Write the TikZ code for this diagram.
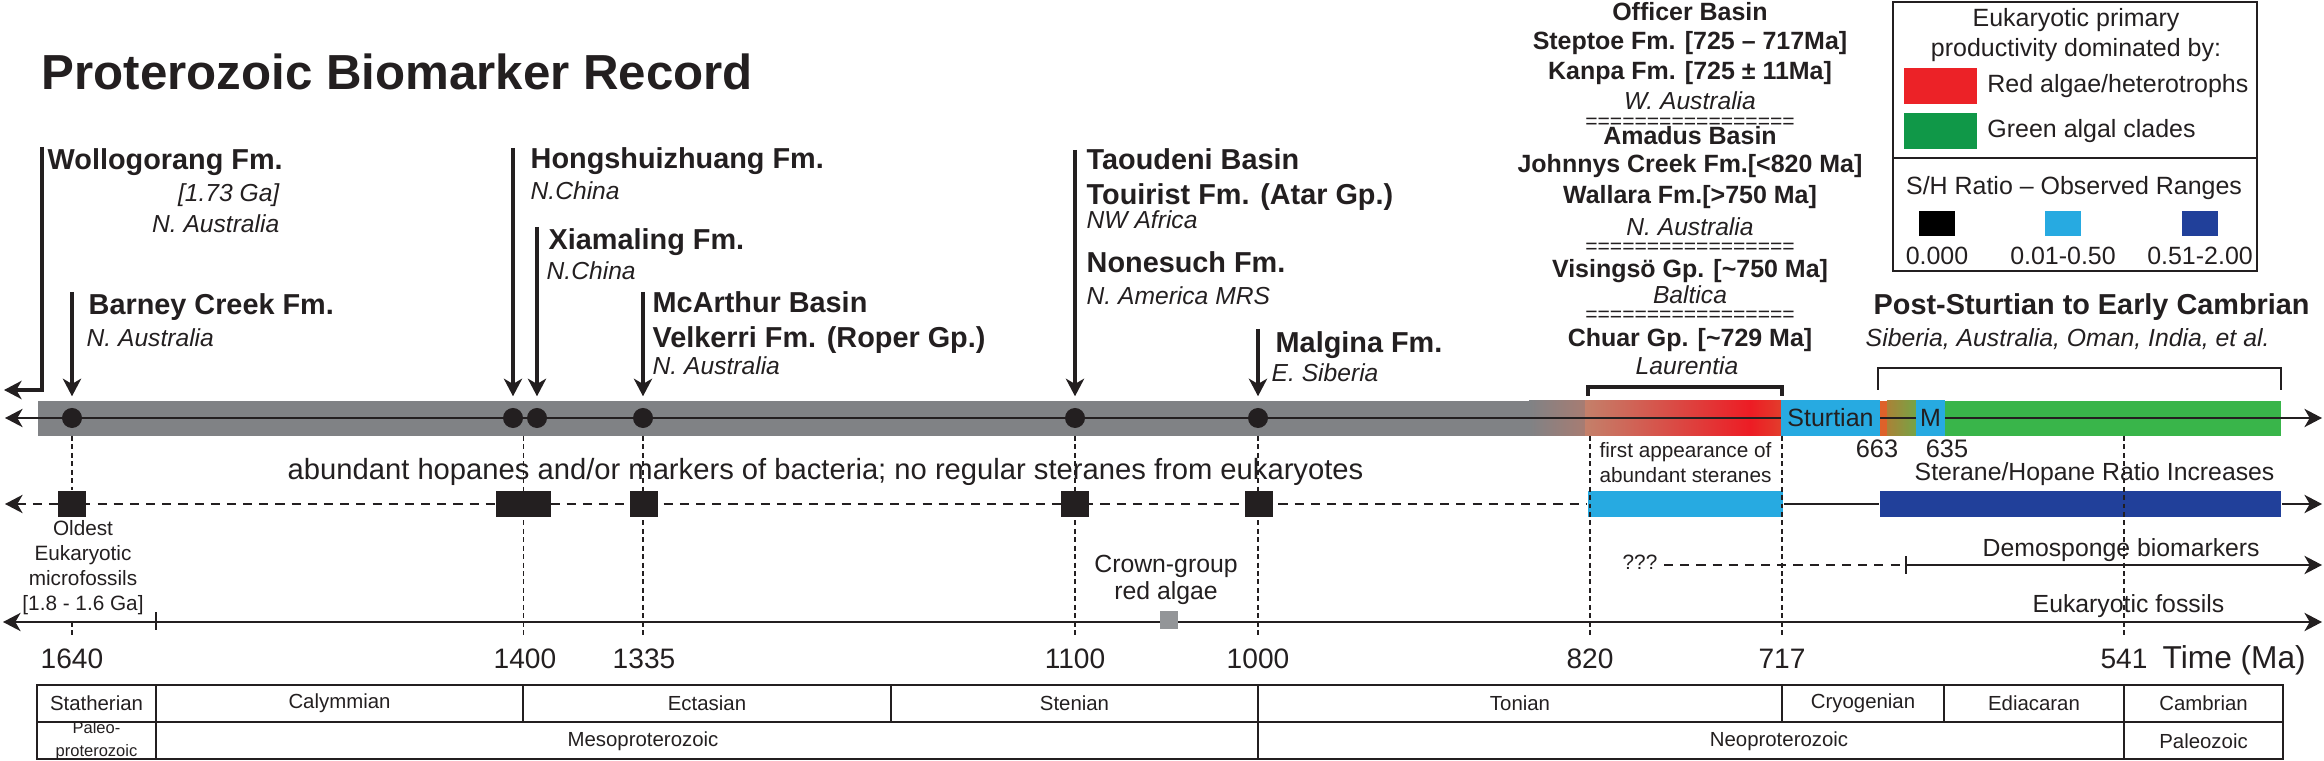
\documentclass[tikz,border=0pt]{standalone}
\usepackage{fontspec}
\setmainfont{Liberation Sans}
\usepackage{tikz}
\usetikzlibrary{positioning,arrows.meta}

\definecolor{ink}{RGB}{35,31,32}
\definecolor{barGray}{RGB}{128,130,133}
\definecolor{algRed}{RGB}{237,28,36}
\definecolor{fadeA}{RGB}{168,124,114}
\definecolor{fadeB}{RGB}{196,128,106}
\definecolor{fadeC}{RGB}{226,62,44}
\definecolor{shLight}{RGB}{39,170,225}
\definecolor{shDark}{RGB}{33,64,154}
\definecolor{grnBar}{RGB}{57,181,74}
\definecolor{grnLeg}{RGB}{16,152,72}
\definecolor{redLeg}{RGB}{236,34,39}
\definecolor{cryOrange}{RGB}{222,98,42}
\definecolor{oliveA}{RGB}{170,130,55}
\definecolor{oliveB}{RGB}{115,165,70}
\definecolor{algGray}{RGB}{147,149,152}

\tikzset{
  fm/.style={font=\bfseries\fontsize{8.2}{9}\selectfont, anchor=base west, inner sep=0pt},
  loc/.style={font=\itshape\fontsize{7}{8}\selectfont, anchor=base west, inner sep=0pt},
  rc/.style={font=\bfseries\fontsize{7.1}{8}\selectfont, anchor=base, inner sep=0pt},
  rcloc/.style={font=\itshape\fontsize{7}{8}\selectfont, anchor=base, inner sep=0pt},
  eqline/.style={font=\fontsize{6}{7}\selectfont, inner sep=0pt},
  txt/.style={font=\fontsize{7.05}{8}\selectfont, anchor=base west, inner sep=0pt},
  small/.style={font=\fontsize{5.9}{7}\selectfont, anchor=base, inner sep=0pt},
  num/.style={font=\fontsize{7.2}{8}\selectfont, anchor=base, inner sep=0pt},
  tick/.style={font=\fontsize{8}{9}\selectfont, anchor=base, inner sep=0pt},
  tab/.style={font=\fontsize{5.8}{7}\selectfont, inner sep=0pt},
  leg/.style={font=\fontsize{7.1}{8}\selectfont, inner sep=0pt},
  cell/.style={line width=0.5pt},
  dot/.style={circle, fill=ink, inner sep=0pt, minimum size=0.2cm},
  sq/.style={fill=ink, inner sep=0pt, minimum height=0.26cm},
  glac/.style={fill=shLight, inner sep=0pt, minimum height=0.35cm, font=\fontsize{7.1}{8}\selectfont},
  marker/.style={->, line width=1pt, shorten >=0.11cm},
  drop/.style={line width=0.4pt, dash pattern=on 1.4pt off 1pt},
  row/.style={line width=0.6pt},
  rowdash/.style={line width=0.6pt, dash pattern=on 2.6pt off 2pt}
}

\begin{document}
\begin{tikzpicture}[x=0.01cm, y=-0.01cm, color=ink, >={Stealth[length=5pt,width=5.2pt,inset=1.5pt]}]
\useasboundingbox (0,0) rectangle (2324,761);
\node[font=\bfseries\fontsize{14}{16}\selectfont, anchor=base west, inner sep=0pt] (title) at (41,90) {Proterozoic Biomarker Record};

% main time bar
\fill[barGray] (38,401) rectangle (1530,436);
\shade[left color=barGray, right color=fadeA] (1529,401) rectangle (1586,436);
\shade[left color=fadeB, right color=algRed] (1585,401) rectangle (1751,436);
\shade[left color=algRed, right color=fadeC] (1750,401) rectangle (1782,436);
\fill[cryOrange] (1879,401) rectangle (1888,436);
\shade[left color=oliveA, right color=oliveB] (1887,401) rectangle (1917,436);
\fill[grnBar] (1945,401) rectangle (2281,436);
\coordinate (ax0) at (5,418);
\coordinate (ax1) at (2322,418);
\coordinate (barBot) at (0,436);
\draw[<->, row] (ax0) -- (ax1);
\node[glac, minimum width=0.98cm] (sturt) at (1830.5,418) {Sturtian};
\node[glac, minimum width=0.29cm] (mari) at (1930.5,418) {M};
\node[num] (n663) at (1877,458) {663};
\node[num] (n635) at (1947,458) {635};

\foreach \n/\X in {1640/72, 1400/513, xia/537, 1335/643, 1100/1075, 1000/1258}
    \node[dot] (d\n) at (\X,418) {};

% formations
\node[fm] (wol) at (47,170) {Wollogorang Fm.};
\node[loc, anchor=base east] (wolA) at (280,202) {[1.73 Ga]};
\node[loc, anchor=base east] (wolB) at (280,233) {N. Australia};
\coordinate (aWol) at (42,147);
\coordinate (wolEnd) at (4,390);
\draw[->, line width=1pt] (aWol) |- (wolEnd);

\node[fm] (bar) at (88,315) {Barney Creek Fm.};
\node[loc] (barA) at (86,347) {N. Australia};
\coordinate (aBar) at (72,292);
\draw[marker] (aBar) -- (d1640);

\node[fm] (hon) at (530,169) {Hongshuizhuang Fm.};
\node[loc] (honA) at (530,200) {N.China};
\coordinate (aHon) at (513,148);
\draw[marker] (aHon) -- (d1400);

\node[fm] (xia) at (548,250) {Xiamaling Fm.};
\node[loc] (xiaA) at (546,280) {N.China};
\coordinate (aXia) at (537,227);
\draw[marker] (aXia) -- (dxia);

\node[fm] (mca) at (652,313) {McArthur Basin};
\node[fm] (vel) at (652,348) {Velkerri Fm. (Roper Gp.)};
\node[loc] (velA) at (652,375) {N. Australia};
\coordinate (aMca) at (643,292);
\draw[marker] (aMca) -- (d1335);

\node[fm] (tao) at (1086,170) {Taoudeni Basin};
\node[fm] (tou) at (1086,205) {Touirist Fm. (Atar Gp.)};
\node[loc] (touA) at (1086,229) {NW Africa};
\node[fm] (non) at (1086,273) {Nonesuch Fm.};
\node[loc] (nonA) at (1086,305) {N. America MRS};
\coordinate (aTao) at (1075,150);
\draw[marker] (aTao) -- (d1100);

\node[fm] (mal) at (1275,353) {Malgina Fm.};
\node[loc] (malA) at (1271,382) {E. Siberia};
\coordinate (aMal) at (1258,329);
\draw[marker] (aMal) -- (d1000);

% right column
\node[rc] (ob1) at (1690,21) {Officer Basin};
\node[rc] (ob2) at (1690,50) {Steptoe Fm. [725 – 717Ma]};
\node[rc] (ob3) at (1690,80) {Kanpa Fm. [725 ± 11Ma]};
\node[rcloc] (ob4) at (1690,110) {W. Australia};
\node[eqline] (eq1) at (1690,123) {=================};
\node[rc] (am1) at (1690,145) {Amadus Basin};
\node[rc] (am2) at (1690,173) {Johnnys Creek Fm.[<820 Ma]};
\node[rc] (am3) at (1690,204) {Wallara Fm.[>750 Ma]};
\node[rcloc] (am4) at (1690,236) {N. Australia};
\node[eqline] (eq2) at (1690,248) {=================};
\node[rc] (vi1) at (1690,278) {Visingsö Gp. [\textasciitilde750 Ma]};
\node[rcloc] (vi2) at (1690,304) {Baltica};
\node[eqline] (eq3) at (1690,316) {=================};
\node[rc] (ch1) at (1690,347) {Chuar Gp. [\textasciitilde729 Ma]};
\node[rcloc] (ch2) at (1687,375) {Laurentia};
\coordinate (lauL) at (1588,396);
\coordinate (lauR) at (1782,396);
\draw[line width=1pt] (lauL) -- ++(0,-9) -| (lauR);

\node[fm] (post) at (1873,315) {Post-Sturtian to Early Cambrian};
\node[loc, font=\itshape\fontsize{7.05}{8}\selectfont] (postA) at (1865,347) {Siberia, Australia, Oman, India, et al.};
\coordinate (psL) at (1878,390);
\coordinate (psR) at (2281,390);
\draw[row] (psL) -- ++(0,-22) -| (psR);

% legend
\draw[line width=0.7pt] (1893,2) rectangle (2257,271);
\draw[line width=0.7pt] (1893,158) -- (2257,158);
\node[leg, anchor=base] (lg1) at (2076,27) {Eukaryotic primary};
\node[leg, anchor=base] (lg2) at (2076,57) {productivity dominated by:};
\node[fill=redLeg, inner sep=0pt, minimum width=0.73cm, minimum height=0.36cm] (lgRed) at (1940.5,86) {};
\node[leg, right=0.09cm of lgRed] (lgRedT) {Red algae/heterotrophs};
\node[fill=grnLeg, inner sep=0pt, minimum width=0.73cm, minimum height=0.36cm] (lgGrn) at (1940.5,131) {};
\node[leg, right=0.09cm of lgGrn] (lgGrnT) {Green algal clades};
\node[leg, anchor=base] (lg3) at (2074,195) {S/H Ratio – Observed Ranges};
\foreach \c/\X/\t [count=\i] in {black/1937/0.000, shLight/2063/0.01-0.50, shDark/2200/0.51-2.00}{
    \node[fill=\c, inner sep=0pt, minimum width=0.36cm, minimum height=0.25cm] (key\i) at (\X,223.5) {};
    \node[leg, below=0.1cm of key\i] (keyT\i) {\t};
}

% hopane row
\node[txt, font=\fontsize{8.3}{9}\selectfont] (hop) at (287,480) {abundant hopanes and/or markers of bacteria; no regular steranes from eukaryotes};
\coordinate (hp0) at (5,504);
\coordinate (hp1) at (2322,504);
\node[fill=shLight, inner sep=0pt, minimum width=1.95cm, minimum height=0.26cm] (stLow) at (1685.5,504) {};
\node[fill=shDark, inner sep=0pt, minimum width=4.01cm, minimum height=0.26cm] (stHigh) at (2080.5,504) {};
\draw[<-, rowdash] (hp0) -- (stLow.west);
\draw[row] (stLow.east) -- (stHigh.west);
\draw[->, row] (stHigh.east) -- (hp1);
\foreach \n/\X/\w in {1640/72/0.28, 1400/523.5/0.55, 1335/644/0.28, 1100/1075/0.28, 1000/1259/0.28}
    \node[sq, minimum width=\w cm] (s\n) at (\X,504) {};
\node[small] (fa1) at (1685.5,458) {first appearance of};
\node[small] (fa2) at (1685.5,482) {abundant steranes};
\node[txt] (shr) at (1914,481) {Sterane/Hopane Ratio Increases};
\foreach \t [count=\i from 0] in {Oldest, Eukaryotic, microfossils, {[1.8 - 1.6 Ga]}}
    \node[small] (old\i) at (83,535+25.3*\i) {\t};

% sponge and fossil rows
\node[small] (qqq) at (1640,569) {???};
\coordinate (dmTick) at (1906,565);
\coordinate (dm1) at (2322,565);
\draw[rowdash] (qqq.east |- dmTick) ++(6,0) -- (dmTick);
\draw[->, row] (dmTick) -- (dm1);
\draw[row] (dmTick) ++(0,-9) -- ++(0,18);
\node[txt] (demo) at (1982,557) {Demosponge biomarkers};

\coordinate (ef0) at (3,622);
\coordinate (ef1) at (2322,622);
\coordinate (efTick) at (156,622);
\draw[<->, row] (ef0) -- (ef1);
\draw[row] (efTick) ++(0,-10) -- ++(0,18);
\node[txt] (euk) at (2032,612) {Eukaryotic fossils};
\node[fill=algGray, inner sep=0pt, minimum width=0.18cm, minimum height=0.17cm] (redAlg) at (1169,620) {};
\node[txt, anchor=base] (cg1) at (1166,572) {Crown-group};
\node[txt, anchor=base] (cg2) at (1166,600) {red algae};

% time scale
\foreach \v/\X in {1640/72, 1400/525, 1335/644, 1100/1075, 1000/1258, 820/1590, 717/1782, 541/2124}
    \node[tick] (t\v) at (\X,668) {\v};
\node[tick, anchor=base west, font=\fontsize{9}{10}\selectfont] (tma) at (2162,668) {Time (Ma)};

\draw[drop] (d1640 |- barBot) -- (s1640.north);
\draw[drop] (d1640 |- ef0) -- ([yshift=3pt]t1640.north);
\draw[drop] (s1400 |- barBot) -- ([yshift=3pt]s1400 |- t1400.north);
\foreach \n in {1335, 1100, 1000}
    \draw[drop] (d\n |- barBot) -- ([yshift=3pt]d\n |- t\n.north);
\foreach \n in {820, 717, 541}
    \draw[drop] (t\n |- barBot) -- ([yshift=3pt]t\n.north);

% periods table
\foreach \a/\b/\p in {37/156/Statherian, 156/523/Calymmian, 523/891/Ectasian, 891/1258/Stenian, 1258/1782/Tonian, 1782/1944/Cryogenian, 1944/2124/Ediacaran, 2124/2283/Cambrian}{
    \draw[cell] (\a,685) rectangle (\b,722);
    \node[tab] (p\p) at ({(\a+\b)/2},703.5) {\p};
}
\foreach \a/\b in {37/156, 156/1258, 1258/2124, 2124/2283}
    \draw[cell] (\a,722) rectangle (\b,759);
\node[tab, font=\fontsize{4.7}{6.5}\selectfont, align=center] (ePal) at (96.5,741) {Paleo-\\proterozoic};
\node[tab] (eMes) at (643,741) {Mesoproterozoic};
\node[tab] (eNeo) at (1779,741) {Neoproterozoic};
\node[tab] (ePz) at (2203.5,741) {Paleozoic};

\end{tikzpicture}
\end{document}
